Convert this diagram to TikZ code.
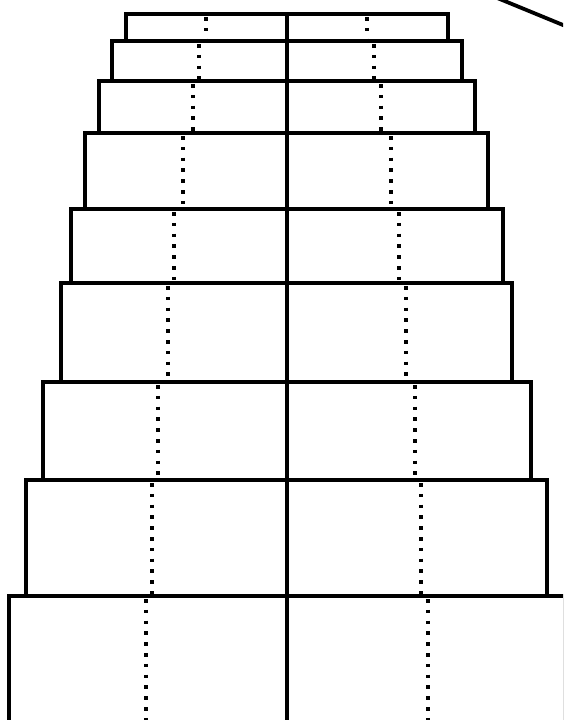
\documentclass[tikz,border=0pt]{standalone}
\begin{document}
\begin{tikzpicture}[x=1pt,y=-1pt,
        gradino/.style={line width=3.8pt},
        puntini/.style={line width=3.6pt,dash pattern=on 3.6pt off 7.2pt}]
        \useasboundingbox (0,0) rectangle (563,720);
        \clip (0,0) rectangle (563,720);
        %gradini, dall'alto in basso
        \draw[gradino] (126,14) rectangle (448,41);
        \draw[gradino] (112,41) rectangle (462,81);
        \draw[gradino] (99,81) rectangle (475,133);
        \draw[gradino] (85,133) rectangle (488,209);
        \draw[gradino] (71,209) rectangle (503,283);
        \draw[gradino] (61,283) rectangle (512,382);
        \draw[gradino] (43,382) rectangle (531,480);
        \draw[gradino] (26,480) rectangle (547,596);
        \draw[gradino] (9,596) rectangle (564.5,740);

        %linee tratteggiate
        \draw[puntini] (206,17) -- (206,41) (367,17) -- (367,41);
        \draw[puntini] (199,44) -- (199,81) (374,44) -- (374,81);
        \draw[puntini] (193,84) -- (193,133) (381,84) -- (381,133);
        \draw[puntini] (183,136) -- (183,209) (391,136) -- (391,209);
        \draw[puntini] (174,212) -- (174,283) (399,212) -- (399,283);
        \draw[puntini] (168,286) -- (168,382) (406,286) -- (406,382);
        \draw[puntini] (158,385) -- (158,480) (415,385) -- (415,480);
        \draw[puntini] (152,483) -- (152,596) (421,483) -- (421,596);
        \draw[puntini] (146,599) -- (146,730) (428,599) -- (428,730);

        %asse centrale
        \draw[line width=4.4pt] (287,12) -- (287,740);

        %linea obliqua
        \draw[line width=3.8pt] (490,-5) -- (580,32);
    \end{tikzpicture}
\end{document}
